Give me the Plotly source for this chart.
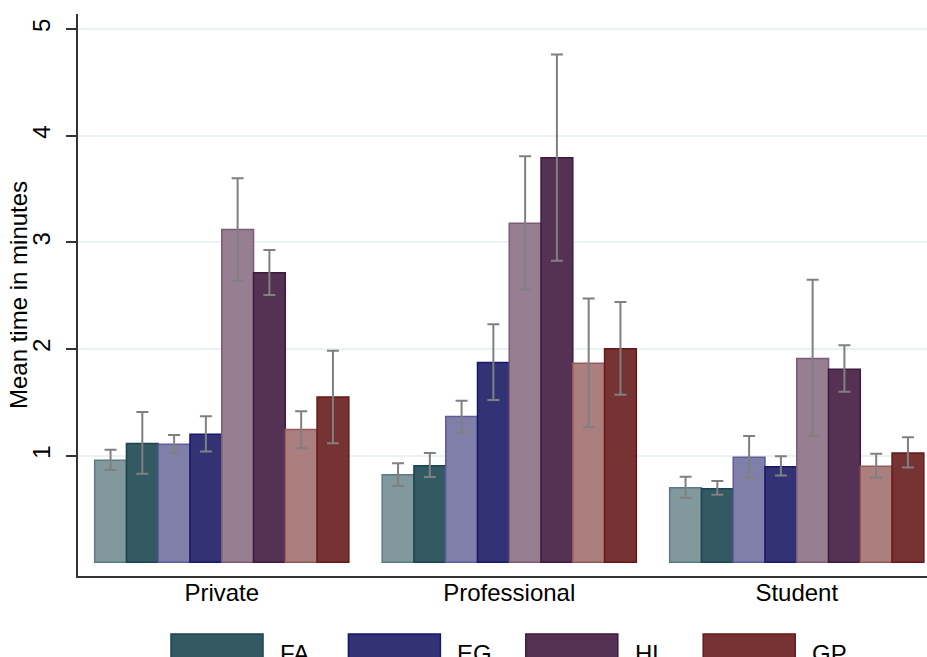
import plotly.graph_objects as go

categories = ["Private", "Professional", "Student"]

# order within each group: FA light, FA, EG light, EG, HL light, HL, GP light, GP
series_names = ["FA (a)", "FA", "EG (a)", "EG", "HL (a)", "HL", "GP (a)", "GP"]

mean_private = [0.957, 1.115, 1.106, 1.20, 3.12, 2.715, 1.245, 1.55]
mean_professional = [0.82, 0.906, 1.366, 1.873, 3.178, 3.793, 1.867, 2.001]
mean_student = [0.70, 0.69, 0.984, 0.897, 1.911, 1.81, 0.90, 1.025]

upper_private = [1.056, 1.41, 1.194, 1.37, 3.60, 2.928, 1.416, 1.983]
upper_professional = [0.929, 1.024, 1.515, 2.231, 3.806, 4.76, 2.474, 2.441]
upper_student = [0.803, 0.762, 1.185, 0.994, 2.65, 2.036, 1.019, 1.172]

lower_private = [0.866, 0.83, 1.025, 1.04, 2.643, 2.505, 1.069, 1.116]
lower_professional = [0.716, 0.80, 1.222, 1.521, 2.557, 2.826, 1.268, 1.570]
lower_student = [0.606, 0.634, 0.793, 0.815, 1.181, 1.598, 0.793, 0.89]

fill_colors = ["#81989D", "#335963", "#807FAA", "#323274",
               "#977E91", "#553253", "#AB7F7E", "#773234"]
line_colors = ["#5B7B83", "#1B4450", "#5E5C9A", "#17176B",
               "#7C5B75", "#3E1A3F", "#945A5A", "#681818"]

legend_labels = ["FA", "EG", "HL", "GP"]
legend_colors = ["#335963", "#323274", "#553253", "#773234"]
legend_lines = ["#1B4450", "#17176B", "#3E1A3F", "#681818"]

y_title = "Mean time in minutes"

FONT = "Liberation Sans, Arial, sans-serif"
FS = 24
W, H = 927, 657
ML, MR, MT, MB = 78, 0, 14, 81

fig = go.Figure()

for i, name in enumerate(series_names):
    y = [mean_private[i], mean_professional[i], mean_student[i]]
    hi = [upper_private[i], upper_professional[i], upper_student[i]]
    lo = [lower_private[i], lower_professional[i], lower_student[i]]
    fig.add_trace(go.Bar(
        x=categories,
        y=y,
        name=name,
        showlegend=False,
        marker=dict(color=fill_colors[i], line=dict(color=line_colors[i], width=1.5)),
        error_y=dict(
            type="data",
            symmetric=False,
            array=[h - v for h, v in zip(hi, y)],
            arrayminus=[v - l for v, l in zip(y, lo)],
            color="#808080",
            thickness=2,
            width=6,
        ),
    ))

# legend drawn by hand (wide Stata-style keys, partly cut off at the bottom)
pw = W - ML - MR
ph = H - MT - MB
shapes = []
annotations = []
for k, (lab, col, lcol) in enumerate(zip(legend_labels, legend_colors, legend_lines)):
    x0 = 171 + k * 177.4
    shapes.append(dict(
        type="rect", xref="paper", yref="paper",
        x0=(x0 - ML) / pw, x1=(x0 + 92 - ML) / pw,
        y0=-(634 - (H - MB)) / ph, y1=-(672 - (H - MB)) / ph,
        fillcolor=col, line=dict(color=lcol, width=1.5),
    ))
    annotations.append(dict(
        text=lab, xref="paper", yref="paper",
        x=(x0 + 107 - ML) / pw, y=-(653 - (H - MB)) / ph,
        xanchor="left", yanchor="middle", showarrow=False,
        font=dict(family=FONT, size=FS, color="black"),
    ))

# y-axis title placed as a rotated annotation
annotations.append(dict(
    text=y_title, xref="paper", yref="paper",
    x=(18 - ML) / pw, y=(H - MB - 295) / ph,
    xanchor="center", yanchor="middle", textangle=-90, showarrow=False,
    font=dict(family=FONT, size=FS, color="black"),
))

fig.update_layout(
    width=W,
    height=H,
    margin=dict(l=ML, r=MR, t=MT, b=MB),
    paper_bgcolor="white",
    plot_bgcolor="white",
    barmode="group",
    bargap=0.116,
    bargroupgap=0,
    showlegend=False,
    font=dict(family=FONT, size=FS, color="black"),
    shapes=shapes,
    annotations=annotations,
    xaxis=dict(
        range=[-0.5, 2.453],
        showline=True,
        linecolor="#333333",
        linewidth=2,
        ticks="",
        showgrid=False,
        tickfont=dict(size=FS),
        ticklabelstandoff=-6,
        automargin=False,
    ),
    yaxis=dict(
        range=[-0.128, 5.14],
        tickvals=[1, 2, 3, 4, 5],
        ticks="outside",
        ticklen=10,
        tickwidth=1.5,
        tickcolor="#333333",
        tickangle=-90,
        ticklabelstandoff=6,
        tickfont=dict(size=FS),
        showline=True,
        linecolor="#333333",
        linewidth=2,
        showgrid=True,
        gridcolor="#EAF2F3",
        gridwidth=2,
        zeroline=False,
        automargin=False,
    ),
)

fig.write_html(
    "out.html",
    config={"displayModeBar": False},
    post_script="document.body.style.margin = '0';",
)
